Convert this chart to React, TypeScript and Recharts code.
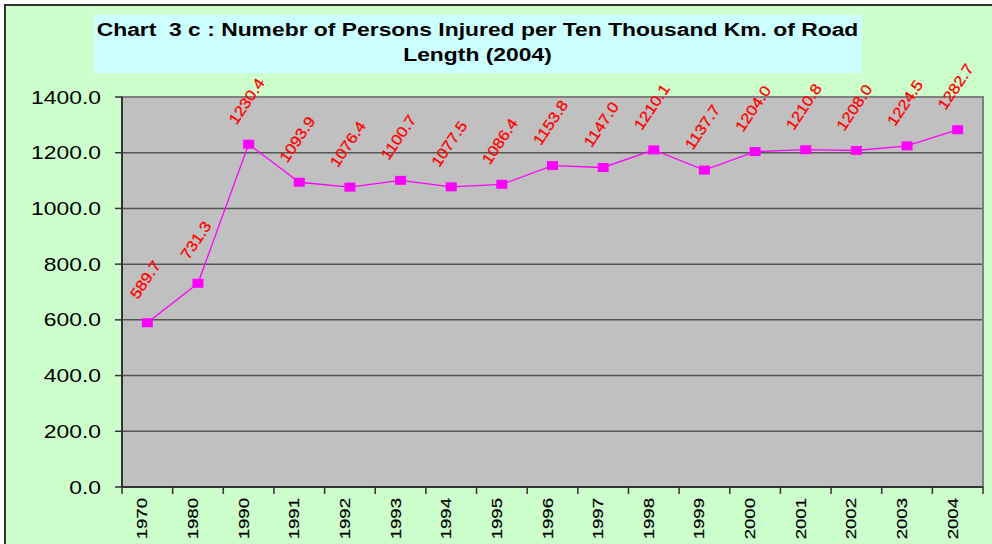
import React from 'react';
import { LineChart, Line, XAxis, YAxis, CartesianGrid, ReferenceArea } from 'recharts';

const years = ['1970', '1980', '1990', '1991', '1992', '1993', '1994', '1995', '1996', '1997', '1998', '1999', '2000', '2001', '2002', '2003', '2004'];
const injured = [589.7, 731.3, 1230.4, 1093.9, 1076.4, 1100.7, 1077.5, 1086.4, 1153.8, 1147.0, 1210.1, 1137.7, 1204.0, 1210.8, 1208.0, 1224.5, 1282.7];
const yTicks = [0, 200, 400, 600, 800, 1000, 1200, 1400];
const titleLine1 = 'Chart  3 c : Numebr of Persons Injured per Ten Thousand Km. of Road';
const titleLine2 = 'Length (2004)';

const data = years.map((year, i) => ({ year, value: injured[i] }));

const W = 992;
const H = 544;
const MARGIN = { top: 97, right: 9, bottom: 0, left: 0 };
const Y_W = 122;
const X_H = 57;
const BW = (W - MARGIN.right - MARGIN.left - Y_W) / years.length;
const FONT = '"Liberation Sans", Arial, sans-serif';
const SX = 1.27;

const XTick = (props: any) => {
  const { x, y, payload, index } = props;
  const ty = y + 11;
  return (
    <g>
      <line x1={x - BW / 2} y1={y} x2={x - BW / 2} y2={y + 7} stroke="#333" strokeWidth={1.5} />
      {index === years.length - 1 && (
        <line x1={x + BW / 2} y1={y} x2={x + BW / 2} y2={y + 7} stroke="#333" strokeWidth={1.5} />
      )}
      <text
        transform={`translate(${x},${ty}) rotate(-90) scale(1.2,1)`}
        textAnchor="end"
        fontSize={15.5}
        fontFamily={FONT}
        fill="#000"
        stroke="#000"
        strokeWidth={0.2}
      >
        {payload.value}
      </text>
    </g>
  );
};

const YTick = (props: any) => {
  const { x, y, payload } = props;
  return (
    <text
      transform={`translate(${x},${y}) scale(${SX},1)`}
      textAnchor="end"
      dominantBaseline="central"
      fontSize={18}
      fontFamily={FONT}
      fill="#000"
    >
      {Number(payload.value).toFixed(1)}
    </text>
  );
};

const DataLabel = (props: any) => {
  const { x, y, value, index } = props;
  if (x == null || y == null) return null;
  const cx = x - 2;
  const cy = y - 43;
  return (
    <text
      key={`lbl-${index}`}
      transform={`translate(${cx},${cy}) rotate(-56) scale(1.12,1)`}
      textAnchor="middle"
      dominantBaseline="central"
      fontSize={15}
      fontFamily={FONT}
      fill="#FF0000"
      stroke="#FF0000"
      strokeWidth={0.3}
    >
      {Number(value).toFixed(1)}
    </text>
  );
};

const Dot = (props: any) => {
  const { cx, cy, index } = props;
  if (cx == null || cy == null) return <g key={`d-${index}`} />;
  return <rect key={`d-${index}`} x={cx - 5.5} y={cy - 4.5} width={11} height={9} fill="#FF00FF" />;
};

export default function App() {
  return (
    <div style={{ position: 'absolute', left: 0, top: 0, width: W, height: H, overflow: 'hidden', background: '#fff' }}>
      <div
        style={{
          position: 'absolute',
          left: 4,
          top: 4,
          width: W + 20,
          height: H + 20,
          background: '#CCFFCC',
          borderLeft: '2px solid #333',
          borderTop: '2px solid #333',
          boxSizing: 'border-box',
        }}
      />
      <div
        style={{
          position: 'absolute',
          left: 93,
          top: 15,
          width: 769,
          height: 58,
          background: '#CCFFFF',
          boxSizing: 'border-box',
          paddingTop: 3,
          textAlign: 'center',
          fontFamily: FONT,
          fontWeight: 'bold',
          fontSize: 18,
          lineHeight: '25px',
          color: '#000',
          whiteSpace: 'pre',
        }}
      >
        <div style={{ transform: `scaleX(${SX})`, transformOrigin: 'center' }}>{titleLine1}</div>
        <div style={{ transform: `scaleX(${SX})`, transformOrigin: 'center' }}>{titleLine2}</div>
      </div>
      <div style={{ position: 'absolute', left: 0, top: 0 }}>
        <LineChart width={W} height={H} data={data} margin={MARGIN} style={{ overflow: 'visible' }}>
          <CartesianGrid vertical={false} fill="#C0C0C0" stroke="#555" strokeWidth={1.5} />
          <ReferenceArea y1={0} y2={1400} fill="#C0C0C0" fillOpacity={0} stroke="#808080" strokeWidth={2} />
          <XAxis
            dataKey="year"
            scale="band"
            interval={0}
            height={X_H}
            tickLine={false}
            tickSize={0}
            tickMargin={0}
            axisLine={{ stroke: '#333', strokeWidth: 2 }}
            tick={<XTick />}
          />
          <YAxis
            domain={[0, 1400]}
            ticks={yTicks}
            width={Y_W}
            tickSize={7}
            tickMargin={14}
            tickLine={{ stroke: '#333', strokeWidth: 1.5 }}
            axisLine={{ stroke: '#333', strokeWidth: 2 }}
            tick={<YTick />}
            allowDataOverflow
          />
          <Line
            dataKey="value"
            stroke="#FF00FF"
            strokeWidth={1.3}
            dot={<Dot />}
            activeDot={false}
            label={<DataLabel />}
            isAnimationActive={false}
          />
        </LineChart>
      </div>
    </div>
  );
}
